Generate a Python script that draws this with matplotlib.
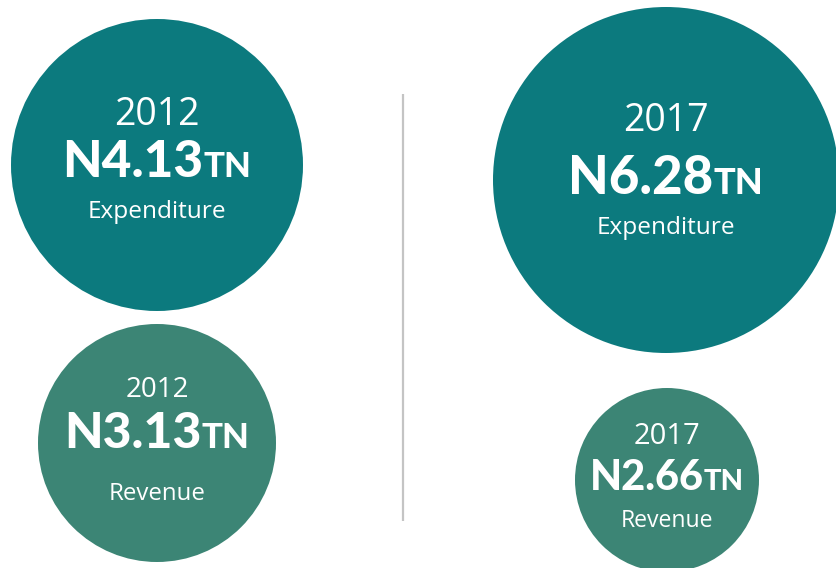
import matplotlib
matplotlib.use("Agg")
import matplotlib.pyplot as plt
from matplotlib.patches import Circle

# data
years = ["2012", "2012", "2017", "2017"]
labels = ["Expenditure", "Revenue", "Expenditure", "Revenue"]
values = [4.13, 3.13, 6.28, 2.66]  # trillion naira

# layout (pixel coords, y down)
centers = [(157, 165), (157, 443), (666, 180), (667, 480)]
radii = [146, 119, 173, 92]
year_base = [125, 397, 131, 444]
value_base = [177, 448, 194, 490]
label_base = [218, 500, 234, 527]
year_size = [27, 20, 27, 21]
value_size = [37, 36, 38, 30]
tn_size = [25, 25, 26, 21]
label_size = [17.6, 17.3, 17.6, 16.6]

colors = {"Expenditure": "#0c7a7e", "Revenue": "#3c8575"}
W, H = 836, 568

fig = plt.figure(figsize=(W / 100, H / 100), dpi=100)
ax = fig.add_axes([0, 0, 1, 1])
ax.set_xlim(0, W)
ax.set_ylim(H, 0)
ax.axis("off")

light = dict(family=["Open Sans", "DejaVu Sans"], color="white")
heavy = dict(family=["Lato", "DejaVu Sans"], weight="black", color="white")

# divider
ax.plot([403, 403], [94, 521], color="#c4c4c4", lw=1.6, solid_capstyle="butt")

pairs = []
for i in range(len(values)):
    cx, cy = centers[i]
    ax.add_patch(Circle((cx, cy), radii[i], color=colors[labels[i]], lw=0))
    ax.text(cx, year_base[i], years[i], ha="center", va="baseline",
            fontsize=year_size[i], **light)
    ax.text(cx, label_base[i], labels[i], ha="center", va="baseline",
            fontsize=label_size[i], **light)
    t1 = ax.text(cx, value_base[i], f"N{values[i]:.2f}", ha="left", va="baseline",
                 fontsize=value_size[i], **heavy)
    t2 = ax.text(cx, value_base[i], "TN", ha="left", va="baseline",
                 fontsize=tn_size[i], **heavy)
    pairs.append((cx, t1, t2))

# centre the "N4.13" + "TN" group inside each circle
fig.canvas.draw()
r = fig.canvas.get_renderer()
for cx, t1, t2 in pairs:
    w1 = t1.get_window_extent(r).width
    w2 = t2.get_window_extent(r).width
    gap = 0
    x0 = cx - (w1 + gap + w2) / 2
    t1.set_x(x0)
    t2.set_x(x0 + w1 + gap)

fig.savefig("out.png", dpi=100)
